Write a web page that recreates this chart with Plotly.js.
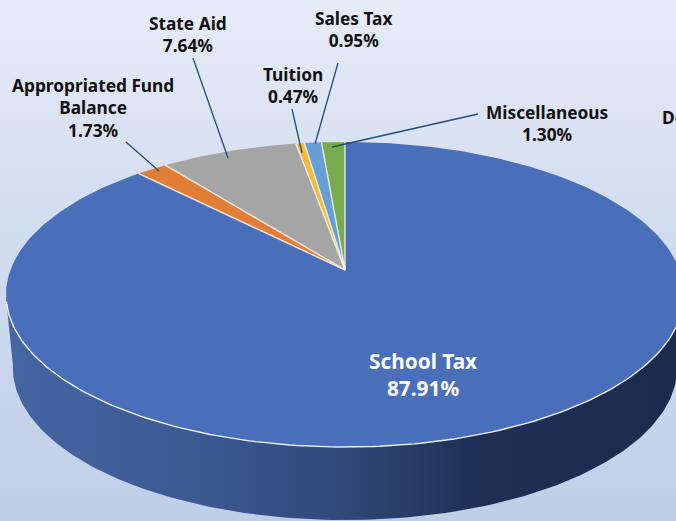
<!DOCTYPE html>
<html><head><meta charset="utf-8">
<script src="https://cdn.plot.ly/plotly-3.0.1.min.js"></script>
<style>html,body{margin:0;padding:0;width:676px;height:521px;overflow:hidden}
#c{width:676px;height:521px;background:linear-gradient(180deg,#e6ecf8 0%,#d6dff1 35%,#bfcee7 100%)}</style>
</head><body><div id="c"></div>
<script>
const categories = ["School Tax","Appropriated Fund Balance","State Aid","Tuition","Sales Tax","Miscellaneous"];
const values = [87.91,1.73,7.64,0.47,0.95,1.30];
const sliceColors = ["#4a6fba","#e07d36","#a5a5a5","#f2bb3c","#659fd6","#78ac53"];
const labelTexts = ["<b>School Tax<br>87.91%</b>","<b>Appropriated Fund<br>Balance<br>1.73%</b>","<b>State Aid<br>7.64%</b>","<b>Tuition<br>0.47%</b>","<b>Sales Tax<br>0.95%</b>","<b>Miscellaneous<br>1.30%</b>"];
const labelX = [423,93,188,293,353,547];
const labelY = [374,108,34,85,29,123];
const leaderFromX = [null,126,193,292,338,478];
const leaderFromY = [null,142,58,109,63,114];
const leaderToX = [null,159,228,302,315,332];
const leaderToY = [null,171,158,153,144,147];

// perspective projection of the pie disc
const cx=345, cy=270, B=334.6, A=148.6, k=0.1607, depth=73, baseScale=0.98;
function proj(deg,r){const t=deg*Math.PI/180,u=Math.sin(t)*r,v=Math.cos(t)*r,d=1+k*v;return [cx+B*u/d,cy-A*v/d];}
function lowerRim(deg){const p=proj(deg,1);return [cx+(p[0]-cx)*baseScale,p[1]+depth];}

const traces=[];
// side wall
const sx=[],sy=[];
for(let a=102;a<=258;a+=1){const p=proj(a,1);sx.push(p[0]);sy.push(p[1]);}
for(let a=262;a>=98;a-=1){const p=lowerRim(a);sx.push(p[0]);sy.push(p[1]);}
traces.push({type:"scatter",mode:"lines",x:sx,y:sy,fill:"toself",line:{width:0,color:"#2a3f6e"},
 fillgradient:{type:"horizontal",colorscale:[[0,"#4565a3"],[0.3,"#3b5892"],[0.5,"#2f4878"],[0.7,"#1f2f55"],[1,"#1c2a4c"]]},hoverinfo:"skip"});
// top slices
let acc=0;
const total=values.reduce((a,b)=>a+b,0);
const edges=[];
values.forEach((val,i)=>{
 const a0=acc/total*360,a1=(acc+val)/total*360;acc+=val;
 const xs=[cx],ys=[cy];
 const n=Math.max(2,Math.ceil(a1-a0));
 for(let j=0;j<=n;j++){const p=proj(a0+(a1-a0)*j/n,1);xs.push(p[0]);ys.push(p[1]);}
 xs.push(cx);ys.push(cy);
 traces.push({type:"scatter",mode:"lines",name:categories[i],x:xs,y:ys,fill:"toself",fillcolor:sliceColors[i],
  line:{color:sliceColors[i],width:0},hoverinfo:"skip"});
 edges.push(proj(a0,1));
});
// pale separators between slices
edges.forEach(p=>traces.push({type:"scatter",mode:"lines",x:[cx,p[0]],y:[cy,p[1]],line:{color:"rgba(255,245,235,0.8)",width:1.5},hoverinfo:"skip"}));
// white highlight along the front rim
const rx=[],ry=[];
for(let a=96;a<=258;a+=1){const p=proj(a,1);rx.push(p[0]);ry.push(p[1]);}
traces.push({type:"scatter",mode:"lines",x:rx,y:ry,line:{color:"rgba(255,255,255,0.9)",width:1.4},hoverinfo:"skip"});
// leader lines
categories.forEach((c,i)=>{ if(leaderFromX[i]===null) return;
 traces.push({type:"scatter",mode:"lines",x:[leaderFromX[i],leaderToX[i]],y:[leaderFromY[i],leaderToY[i]],line:{color:"#1f4e79",width:1.3},hoverinfo:"skip"});
});
const F="'Noto Sans',sans-serif";
const annotations=categories.map((c,i)=>({x:labelX[i],y:labelY[i],xref:"x",yref:"y",text:labelTexts[i],showarrow:false,align:"center",
 font:{family:F,size:i===0?20.8:17.3,color:i===0?"#ffffff":"#111111"}}));
annotations.push({x:660,y:117,xref:"x",yref:"y",xanchor:"left",text:"<b>De</b>",showarrow:false,font:{family:F,size:17.3,color:"#111111"}});
Plotly.newPlot("c",traces,{width:676,height:521,margin:{l:0,r:0,t:0,b:0},showlegend:false,
 paper_bgcolor:"rgba(0,0,0,0)",plot_bgcolor:"rgba(0,0,0,0)",
 xaxis:{range:[0,676],visible:false,fixedrange:true},yaxis:{range:[521,0],visible:false,fixedrange:true},annotations},{displayModeBar:false,staticPlot:true});
</script></body></html>
